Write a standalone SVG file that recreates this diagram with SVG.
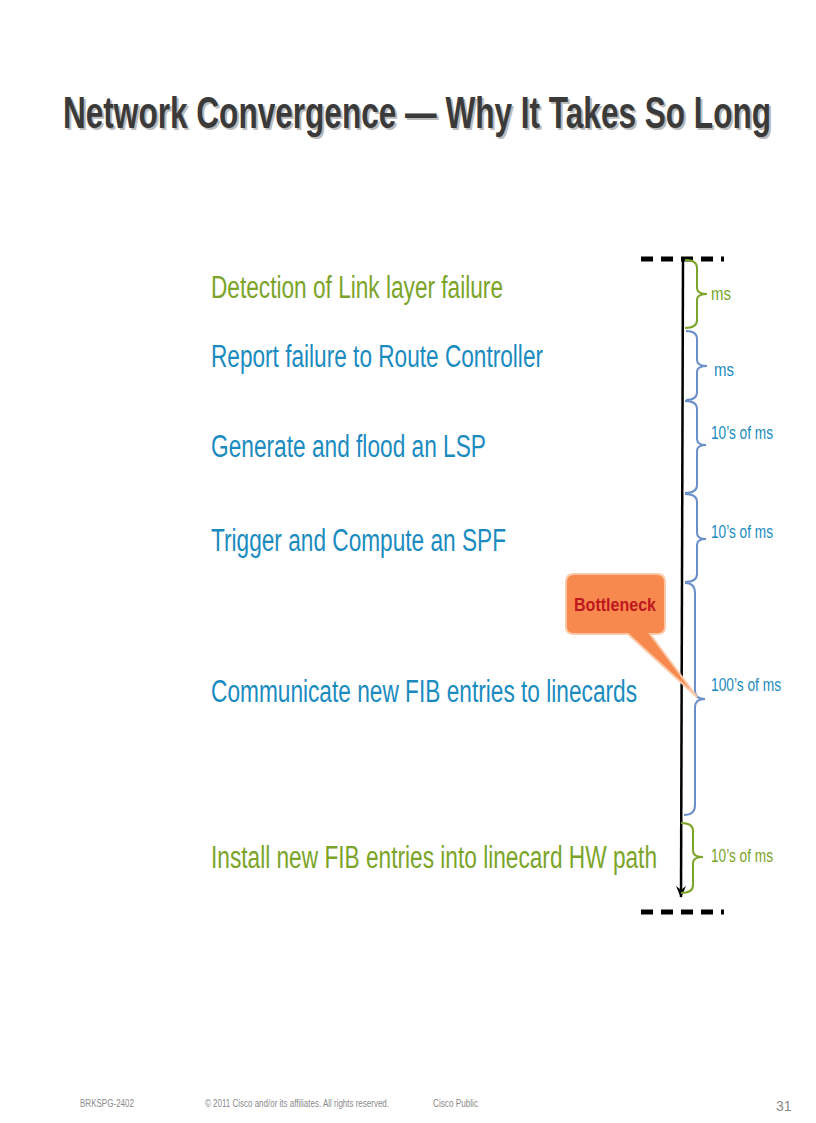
<svg xmlns="http://www.w3.org/2000/svg" width="816" height="1123" viewBox="0 0 816 1123">
<style>
.t{font-family:"Liberation Sans",Arial,sans-serif;font-size:31px}
.g{fill:#7ba428}.b{fill:#1a8bc0}
.s{font-family:"Liberation Sans",Arial,sans-serif;font-size:18px}
.br{fill:none;stroke-width:2}
.f{font-family:"Liberation Sans",Arial,sans-serif;font-size:11px;fill:#8a8a8a}
</style>
<defs>
<marker id="ah" markerWidth="12" markerHeight="10" refX="11" refY="5" orient="auto" markerUnits="userSpaceOnUse" viewBox="0 0 12 10"><path d="M0,0 L12,5 L0,10 L4,5 Z" fill="#000"/></marker>
</defs>
<rect width="816" height="1123" fill="#fff"/>
<text x="65" y="130" font-family="Liberation Sans,Arial,sans-serif" font-size="44" font-weight="bold" fill="#bbb" textLength="708" lengthAdjust="spacingAndGlyphs">Network Convergence — Why It Takes So Long</text>
<text x="63" y="128" font-family="Liberation Sans,Arial,sans-serif" font-size="44" font-weight="bold" fill="#3a3a3a" textLength="708" lengthAdjust="spacingAndGlyphs">Network Convergence — Why It Takes So Long</text>
<g id="steps">
<text id="s1" class="t g" x="211" y="298" textLength="292" lengthAdjust="spacingAndGlyphs">Detection of Link layer failure</text>
<text id="s2" class="t b" x="211" y="367" textLength="332" lengthAdjust="spacingAndGlyphs">Report failure to Route Controller</text>
<text id="s3" class="t b" x="211" y="457" textLength="275" lengthAdjust="spacingAndGlyphs">Generate and flood an LSP</text>
<text id="s4" class="t b" x="211" y="551" textLength="295" lengthAdjust="spacingAndGlyphs">Trigger and Compute an SPF</text>
<text id="s5" class="t b" x="211" y="702" textLength="426" lengthAdjust="spacingAndGlyphs">Communicate new FIB entries to linecards</text>
<text id="s6" class="t g" x="211" y="868" textLength="446" lengthAdjust="spacingAndGlyphs">Install new FIB entries into linecard HW path</text>
</g>
<g id="timeline">
<line x1="641" y1="259" x2="724" y2="259" stroke="#000" stroke-width="5" stroke-dasharray="12,8"/>
<line x1="641" y1="912" x2="724" y2="912" stroke="#000" stroke-width="5" stroke-dasharray="12,8"/>
<line x1="683" y1="259" x2="681" y2="897" stroke="#000" stroke-width="2.5" marker-end="url(#ah)"/>
</g>
<g id="braces">
<path class="br" stroke="#7ba428" d="M685,260 Q697,260 697,268 L697,288 Q697,294 707,294 Q697,294 697,300 L697,320 Q697,328 685,328"/>
<path class="br" stroke="#6a8fc8" d="M686,331 Q697,331 697,339 L697,360 Q697,366 707,366 Q697,366 697,372 L697,392 Q697,400 686,400"/>
<path class="br" stroke="#6a8fc8" d="M685,401 Q697,401 697,409 L697,439 Q697,445 706,445 Q697,445 697,451 L697,485 Q697,493 685,493"/>
<path class="br" stroke="#6a8fc8" d="M685,494 Q697,494 697,502 L697,533 Q697,539 706,539 Q697,539 697,545 L697,574 Q697,582 685,582"/>
<path class="br" stroke="#6a8fc8" d="M685,583 Q695,583 695,593 L695,691 Q695,699 705,699 Q695,699 695,707 L695,805 Q695,815 684,815"/>
<path class="br" stroke="#7ba428" d="M681,823 Q693,823 693,831 L693,851 Q693,857 703,857 Q693,857 693,863 L693,885 Q693,893 681,893"/>
</g>
<g id="labels">
<text class="s g" x="711" y="300" textLength="20" lengthAdjust="spacingAndGlyphs">ms</text>
<text class="s b" x="714" y="376" textLength="20" lengthAdjust="spacingAndGlyphs">ms</text>
<text class="s b" x="711" y="439" textLength="62" lengthAdjust="spacingAndGlyphs">10’s of ms</text>
<text class="s b" x="711" y="538" textLength="62" lengthAdjust="spacingAndGlyphs">10’s of ms</text>
<text class="s b" x="711" y="691" textLength="70" lengthAdjust="spacingAndGlyphs">100’s of ms</text>
<text class="s g" x="711" y="862" textLength="62" lengthAdjust="spacingAndGlyphs">10’s of ms</text>
</g>
<g id="callout">
<path d="M574,574 H657 Q665,574 665,582 V627 Q665,634 657,634 H650 L697,697 L628,634 H574 Q566,634 566,627 V582 Q566,574 574,574 Z" fill="#f7894f" stroke="#fbc9a8" stroke-width="2"/>
<text x="574" y="611" font-family="Liberation Sans,Arial,sans-serif" font-size="19" font-weight="bold" fill="#c0161e" textLength="82" lengthAdjust="spacingAndGlyphs">Bottleneck</text>
</g>
<g id="footer">
<text class="f" x="80" y="1107" textLength="54" lengthAdjust="spacingAndGlyphs">BRKSPG-2402</text>
<text class="f" x="205" y="1107" textLength="184" lengthAdjust="spacingAndGlyphs">© 2011 Cisco and/or its affiliates. All rights reserved.</text>
<text class="f" x="433" y="1107" textLength="45" lengthAdjust="spacingAndGlyphs">Cisco Public</text>
<text x="776" y="1111" font-family="Liberation Sans,Arial,sans-serif" font-size="14" fill="#8a8a8a">31</text>
</g>
</svg>
